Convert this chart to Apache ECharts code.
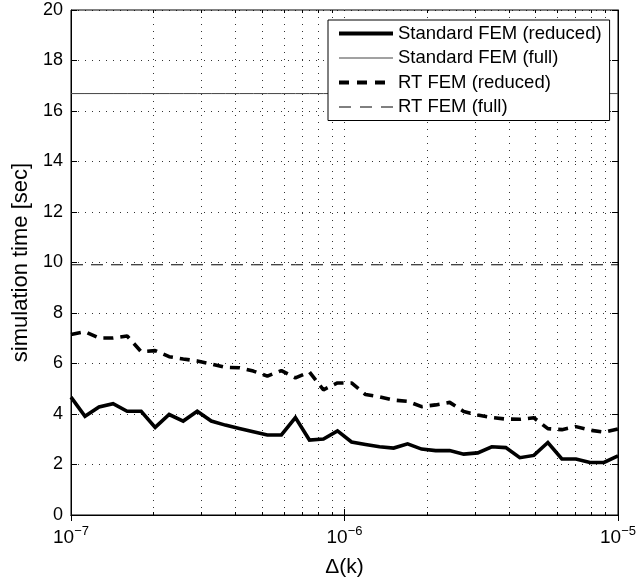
<!DOCTYPE html>
<html>
<head>
<meta charset="utf-8">
<script src="https://cdn.jsdelivr.net/npm/echarts@6/dist/echarts.min.js"></script>
<style>
html,body{margin:0;padding:0;background:#fff;}
#chart{width:640px;height:583px;}
</style>
</head>
<body>
<div id="chart"></div>
<script>
// Δ(k) sample points (40 log-spaced values between 1e-7 and 1e-5)
const deltaK = [
  1.000e-7, 1.125e-7, 1.266e-7, 1.425e-7, 1.604e-7, 1.805e-7, 2.031e-7, 2.285e-7, 2.572e-7, 2.894e-7,
  3.257e-7, 3.665e-7, 4.125e-7, 4.642e-7, 5.223e-7, 5.878e-7, 6.615e-7, 7.444e-7, 8.377e-7, 9.427e-7,
  1.061e-6, 1.194e-6, 1.343e-6, 1.512e-6, 1.701e-6, 1.914e-6, 2.154e-6, 2.424e-6, 2.728e-6, 3.070e-6,
  3.455e-6, 3.888e-6, 4.375e-6, 4.924e-6, 5.541e-6, 6.236e-6, 7.017e-6, 7.897e-6, 8.886e-6, 1.000e-5
];
const stdReduced = [
  4.67, 3.91, 4.28, 4.41, 4.11, 4.11, 3.47, 3.98, 3.72, 4.11,
  3.72, 3.56, 3.43, 3.30, 3.17, 3.17, 3.86, 2.97, 3.01, 3.33,
  2.89, 2.79, 2.70, 2.65, 2.82, 2.61, 2.55, 2.55, 2.41, 2.46,
  2.70, 2.67, 2.27, 2.36, 2.87, 2.22, 2.22, 2.08, 2.08, 2.34
];
const rtReduced = [
  7.15, 7.26, 7.01, 7.01, 7.09, 6.47, 6.51, 6.27, 6.18, 6.10,
  5.98, 5.85, 5.83, 5.70, 5.50, 5.72, 5.43, 5.66, 4.96, 5.23,
  5.23, 4.77, 4.68, 4.55, 4.50, 4.29, 4.36, 4.46, 4.10, 3.96,
  3.86, 3.80, 3.79, 3.85, 3.42, 3.38, 3.50, 3.36, 3.28, 3.41
];
const stdFullTime = 16.69;
const rtFullTime = 9.91;

const seriesNames = ['Standard FEM (reduced)', 'Standard FEM (full)', 'RT FEM (reduced)', 'RT FEM (full)'];
const xMajorTicks = [1e-7, 1e-6, 1e-5];
const xMinorTicks = [2e-7,3e-7,4e-7,5e-7,6e-7,7e-7,8e-7,9e-7,2e-6,3e-6,4e-6,5e-6,6e-6,7e-6,8e-6,9e-6];
const yTicks = [0,2,4,6,8,10,12,14,16,18,20];
const xLabel = 'Δ(k)';
const yLabel = 'simulation time [sec]';

const FONT = '"Liberation Sans", Arial, Helvetica, sans-serif';
const dotted = { type: [1, 6], color: '#000', width: 1, opacity: 0.8 };

function pairs(ys) { return deltaK.map((x, i) => [x, ys[i]]); }
function constant(v) { return deltaK.map(x => [x, v]); }

const chart = echarts.init(document.getElementById('chart'), null, { renderer: 'canvas' });
chart.setOption({
  animation: false,
  backgroundColor: '#fff',
  textStyle: { fontFamily: FONT, color: '#000' },
  grid: { left: 71, right: 22, top: 10, bottom: 64, show: true, borderColor: '#000', borderWidth: 1, backgroundColor: 'transparent' },
  legend: {
    orient: 'vertical', left: 328, top: 20,
    data: [
      { name: seriesNames[0], lineStyle: { width: 4, color: '#000' } },
      { name: seriesNames[1], lineStyle: { width: 1, color: '#444' } },
      { name: seriesNames[2], lineStyle: { width: 4, color: '#000', type: [10, 8] } },
      { name: seriesNames[3], lineStyle: { width: 1, color: '#000', type: [12, 9] } }
    ],
    backgroundColor: '#fff', borderColor: '#000', borderWidth: 1,
    padding: [4, 8, 4, 9], itemGap: 5.5, itemWidth: 54, itemHeight: 18,
    itemStyle: { opacity: 0 },
    textStyle: { fontFamily: FONT, fontSize: 18.5, color: '#000', lineHeight: 18 },
    inactiveColor: '#000', selectedMode: false
  },
  xAxis: [
    {
      type: 'log', logBase: 10, min: xMajorTicks[0], max: xMajorTicks[xMajorTicks.length - 1], position: 'bottom',
      axisLine: { show: true, onZero: false, lineStyle: { color: '#000', width: 1 } },
      axisTick: { show: true, inside: true, length: 6, lineStyle: { color: '#000' } },
      splitLine: { show: true, lineStyle: dotted },
      axisLabel: {
        margin: 10,
        formatter: function (v) {
          const e = Math.round(Math.log10(v));
          return '{b|10}{s|' + (e < 0 ? '\u2212' : '') + Math.abs(e) + '}';
        },
        rich: {
          b: { fontFamily: FONT, fontSize: 19, color: '#000', lineHeight: 22, verticalAlign: 'bottom' },
          s: { fontFamily: FONT, fontSize: 13, color: '#000', lineHeight: 22, verticalAlign: 'top' }
        }
      },
      name: xLabel, nameLocation: 'middle', nameGap: 42,
      nameTextStyle: { fontFamily: FONT, fontSize: 21, color: '#000' }
    },
    {
      type: 'log', logBase: 10, min: xMajorTicks[0], max: xMajorTicks[xMajorTicks.length - 1], position: 'bottom',
      axisLine: { show: false },
      axisTick: { show: true, inside: true, length: 3, customValues: xMinorTicks, lineStyle: { color: '#000' } },
      axisLabel: { show: false, customValues: xMinorTicks },
      splitLine: { show: true, lineStyle: dotted }
    },
    {
      type: 'log', logBase: 10, min: xMajorTicks[0], max: xMajorTicks[xMajorTicks.length - 1], position: 'top',
      axisLine: { show: true, lineStyle: { color: '#000', width: 1 } },
      axisTick: { show: true, inside: true, length: 6, lineStyle: { color: '#000' } },
      axisLabel: { show: false }, splitLine: { show: false }
    },
    {
      type: 'log', logBase: 10, min: xMajorTicks[0], max: xMajorTicks[xMajorTicks.length - 1], position: 'top',
      axisLine: { show: false },
      axisTick: { show: true, inside: true, length: 3, customValues: xMinorTicks, lineStyle: { color: '#000' } },
      axisLabel: { show: false, customValues: xMinorTicks }, splitLine: { show: false }
    }
  ],
  yAxis: [
    {
      type: 'value', min: yTicks[0], max: yTicks[yTicks.length - 1], interval: 2, position: 'left',
      axisLine: { show: true, onZero: false, lineStyle: { color: '#000', width: 1 } },
      axisTick: { show: true, inside: true, length: 6, lineStyle: { color: '#000' } },
      axisLabel: { fontFamily: FONT, fontSize: 18, color: '#000', margin: 8 },
      splitLine: { show: true, lineStyle: dotted },
      name: yLabel, nameLocation: 'middle', nameGap: 35, nameRotate: 90,
      nameTextStyle: { fontFamily: FONT, fontSize: 22, color: '#000' }
    },
    {
      type: 'value', min: yTicks[0], max: yTicks[yTicks.length - 1], interval: 2, position: 'right',
      axisLine: { show: true, onZero: false, lineStyle: { color: '#000', width: 1 } },
      axisTick: { show: true, inside: true, length: 6, lineStyle: { color: '#000' } },
      axisLabel: { show: false }, splitLine: { show: false }
    }
  ],
  series: [
    {
      name: seriesNames[0], type: 'line', xAxisIndex: 0, yAxisIndex: 0, data: pairs(stdReduced),
      symbol: 'none', showSymbol: false, z: 5,
      lineStyle: { color: '#000', width: 3.6, join: 'miter' }, itemStyle: { color: '#000' }
    },
    {
      name: seriesNames[1], type: 'line', xAxisIndex: 0, yAxisIndex: 0, data: constant(stdFullTime),
      symbol: 'none', showSymbol: false, z: 3,
      lineStyle: { color: '#444', width: 1 }, itemStyle: { color: '#444' }
    },
    {
      name: seriesNames[2], type: 'line', xAxisIndex: 0, yAxisIndex: 0, data: pairs(rtReduced),
      symbol: 'none', showSymbol: false, z: 4,
      lineStyle: { color: '#000', width: 3.6, type: [10, 7] }, itemStyle: { color: '#000' }
    },
    {
      name: seriesNames[3], type: 'line', xAxisIndex: 0, yAxisIndex: 0, data: constant(rtFullTime),
      symbol: 'none', showSymbol: false, z: 3,
      lineStyle: { color: '#000', width: 1, type: [12, 8] }, itemStyle: { color: '#000' }
    }
  ]
});
</script>
</body>
</html>
